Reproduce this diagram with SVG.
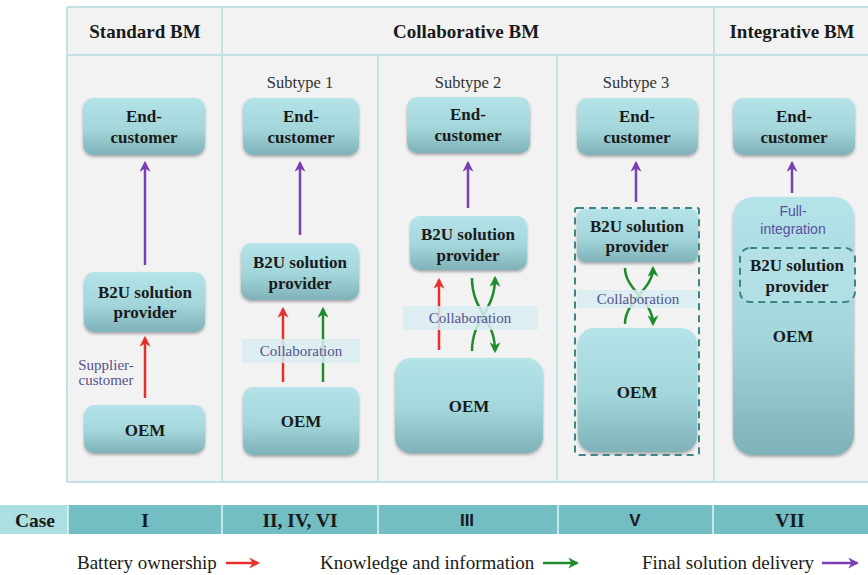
<svg xmlns="http://www.w3.org/2000/svg" width="868" height="575" viewBox="0 0 868 575">
<defs>
<linearGradient id="g" x1="0" y1="0" x2="0" y2="1">
<stop offset="0" stop-color="#b4e3e8"/>
<stop offset="0.55" stop-color="#a3d6db"/>
<stop offset="1" stop-color="#7fb2b8"/>
</linearGradient>
<filter id="sh" x="-10%" y="-10%" width="120%" height="130%">
<feDropShadow dx="0" dy="2" stdDeviation="1.8" flood-color="#000" flood-opacity="0.3"/>
</filter>
<marker id="red" viewBox="0 0 10 10" refX="8" refY="5" markerWidth="11" markerHeight="11" markerUnits="userSpaceOnUse" orient="auto">
<path d="M0,0 L10,5 L0,10 L3,5 Z" fill="#e8302a"/>
</marker>
<marker id="grn" viewBox="0 0 10 10" refX="8" refY="5" markerWidth="11" markerHeight="11" markerUnits="userSpaceOnUse" orient="auto">
<path d="M0,0 L10,5 L0,10 L3,5 Z" fill="#1e8c2a"/>
</marker>
<marker id="pur" viewBox="0 0 10 10" refX="8" refY="5" markerWidth="11" markerHeight="11" markerUnits="userSpaceOnUse" orient="auto">
<path d="M0,0 L10,5 L0,10 L3,5 Z" fill="#7b3fb5"/>
</marker>
<style>
.box{fill:url(#g);filter:url(#sh)}
.nt{font-family:"Liberation Serif",serif;font-weight:bold;font-size:17px;fill:#1a1a1a;text-anchor:middle}
.hd{font-family:"Liberation Serif",serif;font-weight:bold;font-size:19px;fill:#1a1a1a;text-anchor:middle}
.sub{font-family:"Liberation Serif",serif;font-size:16.5px;fill:#333;text-anchor:middle}
.col{font-family:"Liberation Serif",serif;font-size:15px;fill:#55528c;text-anchor:middle}
.band{fill:#d8edf2;opacity:0.85}
.grid{stroke:#c3e0e2;stroke-width:2;fill:none}
.r{stroke:#e8302a;stroke-width:2.5;fill:none;marker-end:url(#red)}
.gr{stroke:#1e8c2a;stroke-width:2.5;fill:none;marker-end:url(#grn)}
.p{stroke:#7b3fb5;stroke-width:2.5;fill:none;marker-end:url(#pur)}
.dash{fill:none;stroke:#3b8587;stroke-width:2;stroke-dasharray:7,5}
.case{font-family:"Liberation Serif",serif;font-weight:bold;font-size:19.5px;fill:#1a1a1a;text-anchor:middle}
.cases{font-family:"Liberation Sans",Arial,sans-serif;font-weight:bold;font-size:17px;fill:#1a1a1a;text-anchor:middle}
.leg{font-family:"Liberation Serif",serif;font-size:19px;fill:#1a1a1a}
</style>
</defs>
<rect width="868" height="575" fill="#ffffff"/>
<g id="panel">
<rect x="67" y="7" width="801" height="475" fill="#f2f2f2"/>
<path class="grid" d="M67,7 H868 M67,55 H868 M67,7 V482 M67,482 H868 M222,7 V482 M714,7 V482 M378,55 V482 M557,55 V482"/>
<text class="hd" x="145" y="38">Standard BM</text>
<text class="hd" x="466" y="38">Collaborative BM</text>
<text class="hd" x="792" y="38">Integrative BM</text>
<text class="sub" x="300" y="88">Subtype 1</text>
<text class="sub" x="468" y="88">Subtype 2</text>
<text class="sub" x="636" y="88">Subtype 3</text>
</g>
<g id="connectors">
<line class="p" x1="145" y1="265" x2="145" y2="163"/>
<line class="r" x1="145" y1="398" x2="145" y2="338"/>
<line class="p" x1="300" y1="235" x2="300" y2="163"/>
<line class="r" x1="283" y1="382" x2="283" y2="309"/>
<line class="gr" x1="323" y1="382" x2="323" y2="309"/>
<line class="p" x1="468" y1="208" x2="468" y2="163"/>
<line class="r" x1="439" y1="350" x2="439" y2="280"/>
<path class="gr" d="M472,278 C472,312 495,318 495,351"/>
<path class="gr" d="M472,351 C472,318 495,312 495,278"/>
<line class="p" x1="636" y1="202" x2="636" y2="163"/>
<path class="gr" d="M625,268 C625,290 653,300 653,324"/>
<path class="gr" d="M625,324 C625,300 653,290 653,268"/>
<line class="p" x1="792" y1="193" x2="792" y2="163"/>
</g>
<g id="bands">
<rect class="band" x="242" y="339" width="118" height="24"/>
<text class="col" x="301" y="356">Collaboration</text>
<rect class="band" x="403" y="306" width="135" height="24"/>
<text class="col" x="470" y="323">Collaboration</text>
<rect class="band" x="577" y="290" width="121" height="18"/>
<text class="col" x="638" y="304">Collaboration</text>
</g>
<g id="std-end"><rect class="box" x="83" y="98" width="122" height="57" rx="10"/><text class="nt" x="144" y="122">End-</text><text class="nt" x="144" y="143">customer</text></g>
<g id="std-b2u"><rect class="box" x="84" y="272" width="121" height="60" rx="10"/><text class="nt" x="145" y="298">B2U solution</text><text class="nt" x="145" y="318">provider</text></g>
<g id="std-oem"><rect class="box" x="84" y="405" width="121" height="48" rx="10"/><text class="nt" x="145" y="436">OEM</text></g>
<text x="106" y="370" class="col">Supplier-</text>
<text x="106" y="385" class="col">customer</text>
<g id="s1-end"><rect class="box" x="243" y="98" width="116" height="57" rx="10"/><text class="nt" x="301" y="122">End-</text><text class="nt" x="301" y="143">customer</text></g>
<g id="s1-b2u"><rect class="box" x="241" y="243" width="118" height="57" rx="10"/><text class="nt" x="300" y="268">B2U solution</text><text class="nt" x="300" y="289">provider</text></g>
<g id="s1-oem"><rect class="box" x="243" y="387" width="116" height="68" rx="10"/><text class="nt" x="301" y="427">OEM</text></g>
<g id="s2-end"><rect class="box" x="407" y="97" width="123" height="56" rx="10"/><text class="nt" x="468" y="120">End-</text><text class="nt" x="468" y="141">customer</text></g>
<g id="s2-b2u"><rect class="box" x="410" y="216" width="117" height="54" rx="10"/><text class="nt" x="468" y="240">B2U solution</text><text class="nt" x="468" y="261">provider</text></g>
<g id="s2-oem"><rect class="box" x="395" y="358" width="148" height="95" rx="16"/><text class="nt" x="469" y="412">OEM</text></g>
<g id="s3-end"><rect class="box" x="577" y="98" width="121" height="57" rx="10"/><text class="nt" x="637" y="122">End-</text><text class="nt" x="637" y="143">customer</text></g>
<g id="s3-b2u"><rect class="box" x="577" y="209" width="121" height="53" rx="8"/><text class="nt" x="637" y="232">B2U solution</text><text class="nt" x="637" y="252">provider</text></g>
<g id="s3-oem"><rect class="box" x="578" y="328" width="119" height="124" rx="16"/><text class="nt" x="637" y="398">OEM</text></g>
<g id="s3-frame"><rect class="dash" x="575" y="208" width="124" height="247" rx="2"/></g>
<g id="i-end"><rect class="box" x="733" y="98" width="122" height="57" rx="10"/><text class="nt" x="794" y="122">End-</text><text class="nt" x="794" y="143">customer</text></g>
<g id="i-oem"><rect class="box" x="733" y="197" width="121" height="258" rx="20"/>
<text x="793" y="216" font-family="Liberation Sans, Arial, sans-serif" font-size="14" fill="#5a4fa0" text-anchor="middle">Full-</text>
<text x="793" y="234" font-family="Liberation Sans, Arial, sans-serif" font-size="14" fill="#5a4fa0" text-anchor="middle">integration</text>
<text class="nt" x="793" y="342">OEM</text></g>
<g id="i-b2u"><rect x="740" y="248" width="115" height="54" rx="10" fill="#b9e4e8" fill-opacity="0.5" stroke="#3b8587" stroke-width="2" stroke-dasharray="7,5"/><text class="nt" x="797" y="271">B2U solution</text><text class="nt" x="797" y="292">provider</text></g>
<g id="case-row">
<rect x="0" y="505" width="68" height="29" fill="#acdfe2"/>
<rect x="68" y="505" width="800" height="29" fill="#72bec3"/>
<path d="M68,505 V534 M222,505 V534 M378,505 V534 M558,505 V534 M713,505 V534" stroke="#e4f3f4" stroke-width="1.5"/>
<text class="case" x="35" y="527">Case</text>
<text class="case" x="145" y="527">I</text>
<text class="case" x="300" y="527">II, IV, VI</text>
<text class="cases" x="467" y="526">III</text>
<text class="cases" x="635" y="526">V</text>
<text class="case" x="790" y="527">VII</text>
</g>
<g id="legend">
<text class="leg" x="77" y="569">Battery ownership</text>
<line class="r" x1="226" y1="563" x2="258" y2="563"/>
<text class="leg" x="320" y="569">Knowledge and information</text>
<line class="gr" x1="543" y1="563" x2="577" y2="563"/>
<text class="leg" x="642" y="569">Final solution delivery</text>
<line class="p" x1="822" y1="563" x2="857" y2="563"/>
</g>
</svg>
